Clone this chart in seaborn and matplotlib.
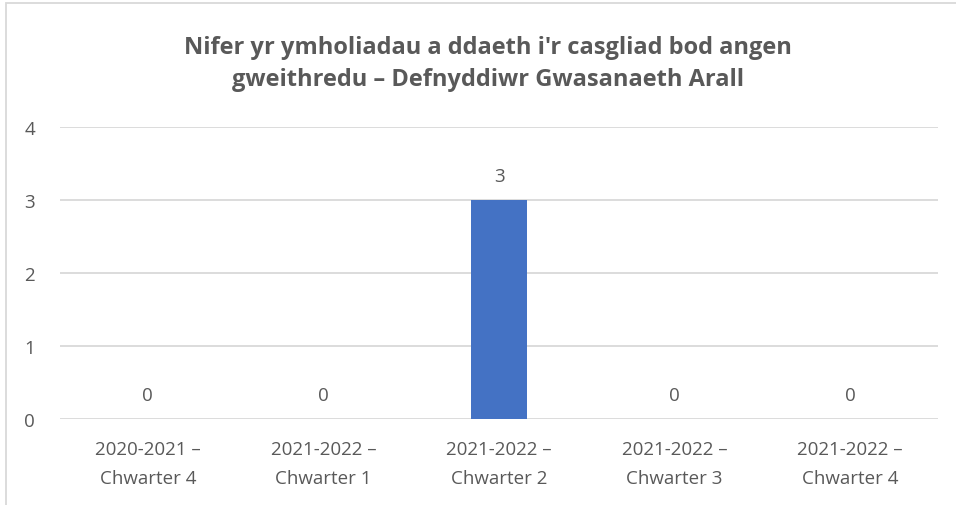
import matplotlib
matplotlib.use("Agg")
import matplotlib.pyplot as plt
from matplotlib.patches import Rectangle
import seaborn as sns
import pandas as pd

categories = [
    "2020-2021 –\nChwarter 4",
    "2021-2022 –\nChwarter 1",
    "2021-2022 –\nChwarter 2",
    "2021-2022 –\nChwarter 3",
    "2021-2022 –\nChwarter 4",
]
values = [0, 0, 3, 0, 0]
y_ticks = [0, 1, 2, 3, 4]
title = "Nifer yr ymholiadau a ddaeth i'r casgliad bod angen\ngweithredu – Defnyddiwr Gwasanaeth Arall"

sns.set_theme(style="white")
plt.rcParams["font.family"] = ["Open Sans", "DejaVu Sans"]

text_color = "#595959"
grid_color = "#d9d9d9"
bar_color = "#4472c4"

df = pd.DataFrame({"category": categories, "value": values})

fig = plt.figure(figsize=(9.56, 5.06), dpi=100)
W, H = 956, 506
ax = fig.add_axes([60 / W, 1 - 420 / H, 878 / W, (420 - 128) / H])

sns.barplot(data=df, x="category", y="value", color=bar_color, width=0.32,
            saturation=1, linewidth=0, ax=ax, zorder=3)

ax.set_ylim(0, 4)
ax.set_xlim(-0.5, len(categories) - 0.5)
ax.set_yticks(y_ticks)
ax.yaxis.grid(True, color=grid_color, linewidth=1.3, zorder=0)
ax.set_axisbelow(True)
for s in ax.spines.values():
    s.set_visible(False)
ax.set_xlabel("")
ax.set_ylabel("")
ax.tick_params(axis="both", length=0, colors=text_color, labelsize=13.5)
ax.tick_params(axis="y", pad=18)
ax.tick_params(axis="x", pad=15)
for lbl in ax.get_xticklabels():
    lbl.set_linespacing(1.8)

for container in ax.containers:
    ax.bar_label(container, labels=[str(v) for v in values], padding=11,
                 color=text_color, fontsize=13.5)

fig.text(488 / W, 1 - 64 / H, title, ha="center", va="center",
         fontsize=17, fontweight="bold", color=text_color, linespacing=1.45)

# chart frame
fig.patches.append(Rectangle((6 / W, -0.1), 1.2, 1 - 4 / H + 0.1,
                             transform=fig.transFigure, fill=False,
                             edgecolor=grid_color, linewidth=1.3))

fig.savefig("out.png", dpi=100, facecolor="white")
